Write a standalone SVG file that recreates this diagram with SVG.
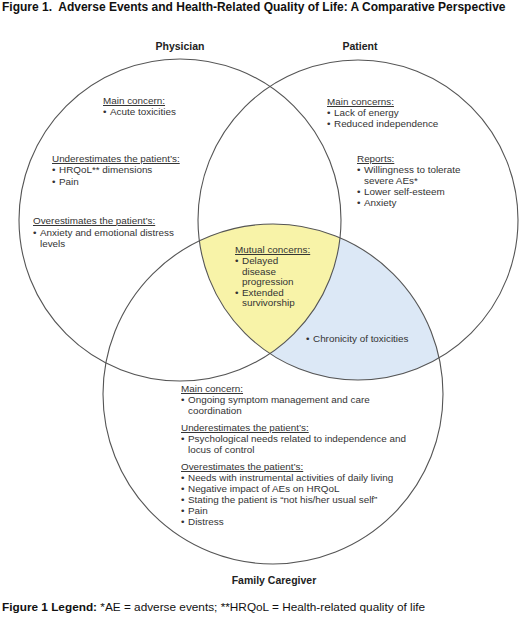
<svg xmlns="http://www.w3.org/2000/svg" width="520" height="622" viewBox="0 0 520 622">
<style>
text{font-family:"Liberation Sans",Arial,sans-serif;fill:#333;}
.t{font-size:12px;font-weight:bold;fill:#111;}
.h{font-size:10.5px;font-weight:bold;fill:#222;}
.b{font-size:9.9px;}
.u{text-decoration:underline;}
.c{fill:none;stroke:#555;stroke-width:1.1;}
</style>
<rect width="520" height="622" fill="#fff"/>
<text class="t" x="2" y="11" xml:space="preserve">Figure 1.  Adverse Events and Health-Related Quality of Life: A Comparative Perspective</text>
<g id="regions">
<path d="M199.5,240.7 A170,170 0 0 1 339.9,237.8 A161,161 0 0 1 269.9,353.6 A160,160 0 0 1 199.5,240.7 Z" fill="#f8f3a8"/>
<path d="M339.9,237.8 A170,170 0 0 1 439.1,357.9 A160,160 0 0 1 269.9,353.6 A161,161 0 0 0 339.9,237.8 Z" fill="#dce8f6"/>
</g>
<g id="physician">
<circle class="c" cx="180" cy="220" r="161"/>
<text class="h" x="180" y="50" text-anchor="middle">Physician</text>
<text class="b">
<tspan class="u" x="103" y="104">Main concern:</tspan>
<tspan x="103" y="115">•</tspan><tspan x="110" y="115">Acute toxicities</tspan>
<tspan class="u" x="52" y="162">Underestimates the patient’s:</tspan>
<tspan x="52" y="173">•</tspan><tspan x="59" y="173">HRQoL** dimensions</tspan>
<tspan x="52" y="185">•</tspan><tspan x="59" y="185">Pain</tspan>
<tspan class="u" x="33" y="224">Overestimates the patient’s:</tspan>
<tspan x="33" y="236">•</tspan><tspan x="40" y="236">Anxiety and emotional distress</tspan>
<tspan x="40" y="247">levels</tspan>
</text>
</g>
<g id="patient">
<circle class="c" cx="358" cy="220" r="160"/>
<text class="h" x="360" y="50" text-anchor="middle">Patient</text>
<text class="b">
<tspan class="u" x="327" y="105">Main concerns:</tspan>
<tspan x="327" y="116">•</tspan><tspan x="334" y="116">Lack of energy</tspan>
<tspan x="327" y="127">•</tspan><tspan x="334" y="127">Reduced independence</tspan>
<tspan class="u" x="357" y="162">Reports:</tspan>
<tspan x="357" y="173">•</tspan><tspan x="364" y="173">Willingness to tolerate</tspan>
<tspan x="364" y="184">severe AEs*</tspan>
<tspan x="357" y="195">•</tspan><tspan x="364" y="195">Lower self-esteem</tspan>
<tspan x="357" y="206">•</tspan><tspan x="364" y="206">Anxiety</tspan>
</text>
</g>
<g id="family">
<circle class="c" cx="273" cy="394" r="170"/>
<text class="h" x="274" y="584" text-anchor="middle">Family Caregiver</text>
<text class="b">
<tspan class="u" x="181" y="392">Main concern:</tspan>
<tspan x="181" y="403">•</tspan><tspan x="188" y="403">Ongoing symptom management and care</tspan>
<tspan x="188" y="414">coordination</tspan>
<tspan class="u" x="181" y="431">Underestimates the patient’s:</tspan>
<tspan x="181" y="442">•</tspan><tspan x="188" y="442">Psychological needs related to independence and</tspan>
<tspan x="188" y="453">locus of control</tspan>
<tspan class="u" x="181" y="470">Overestimates the patient’s:</tspan>
<tspan x="181" y="481">•</tspan><tspan x="188" y="481">Needs with instrumental activities of daily living</tspan>
<tspan x="181" y="492">•</tspan><tspan x="188" y="492">Negative impact of AEs on HRQoL</tspan>
<tspan x="181" y="503">•</tspan><tspan x="188" y="503">Stating the patient is “not his/her usual self”</tspan>
<tspan x="181" y="514">•</tspan><tspan x="188" y="514">Pain</tspan>
<tspan x="181" y="525">•</tspan><tspan x="188" y="525">Distress</tspan>
</text>
</g>
<g id="mutual">
<text class="b">
<tspan class="u" x="235" y="253">Mutual concerns:</tspan>
<tspan x="235" y="264">•</tspan><tspan x="242" y="264">Delayed</tspan>
<tspan x="242" y="275">disease</tspan>
<tspan x="242" y="285">progression</tspan>
<tspan x="235" y="296">•</tspan><tspan x="242" y="296">Extended</tspan>
<tspan x="242" y="306">survivorship</tspan>
</text>
</g>
<g id="patient-family">
<text class="b"><tspan x="306" y="342">•</tspan><tspan x="313" y="342">Chronicity of toxicities</tspan></text>
</g>
<text x="2" y="611" style="font-size:11.8px;fill:#111"><tspan font-weight="bold">Figure 1 Legend:</tspan> *AE = adverse events; **HRQoL = Health-related quality of life</text>
</svg>
